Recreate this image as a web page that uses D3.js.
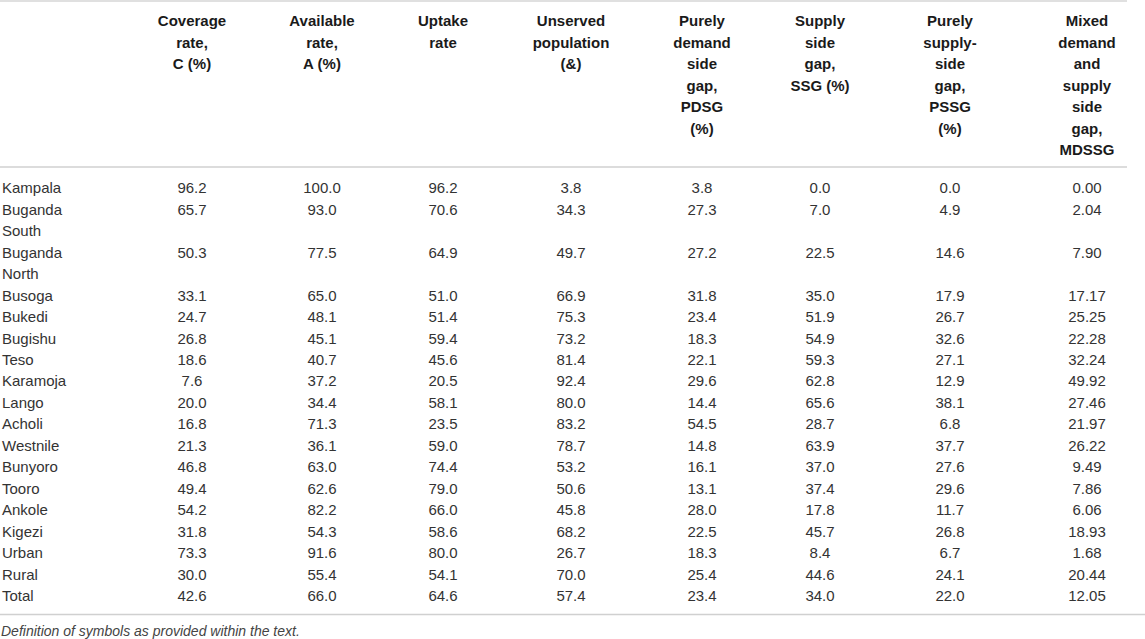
<!DOCTYPE html>
<html><head><meta charset="utf-8">
<script src="https://cdn.jsdelivr.net/npm/d3@7"></script>
<style>html,body{margin:0;padding:0;background:#fff;} svg{display:block;}</style>
</head><body><svg id="c" width="1145" height="639"></svg>
<script>
// ---------- data ----------
const rowLabels = ["Kampala","Buganda South","Buganda North","Busoga","Bukedi","Bugishu","Teso","Karamoja","Lango","Acholi","Westnile","Bunyoro","Tooro","Ankole","Kigezi","Urban","Rural","Total"];
const coverage  = [96.2,65.7,50.3,33.1,24.7,26.8,18.6,7.6,20.0,16.8,21.3,46.8,49.4,54.2,31.8,73.3,30.0,42.6];
const available = [100.0,93.0,77.5,65.0,48.1,45.1,40.7,37.2,34.4,71.3,36.1,63.0,62.6,82.2,54.3,91.6,55.4,66.0];
const uptake    = [96.2,70.6,64.9,51.0,51.4,59.4,45.6,20.5,58.1,23.5,59.0,74.4,79.0,66.0,58.6,80.0,54.1,64.6];
const unserved  = [3.8,34.3,49.7,66.9,75.3,73.2,81.4,92.4,80.0,83.2,78.7,53.2,50.6,45.8,68.2,26.7,70.0,57.4];
const pdsg      = [3.8,27.3,27.2,31.8,23.4,18.3,22.1,29.6,14.4,54.5,14.8,16.1,13.1,28.0,22.5,18.3,25.4,23.4];
const ssg       = [0.0,7.0,22.5,35.0,51.9,54.9,59.3,62.8,65.6,28.7,63.9,37.0,37.4,17.8,45.7,8.4,44.6,34.0];
const pssg      = [0.0,4.9,14.6,17.9,26.7,32.6,27.1,12.9,38.1,6.8,37.7,27.6,29.6,11.7,26.8,6.7,24.1,22.0];
const mdssg     = [0.00,2.04,7.90,17.17,25.25,22.28,32.24,49.92,27.46,21.97,26.22,9.49,7.86,6.06,18.93,1.68,20.44,12.05];
const headerLines = [
  ["Coverage","rate,","C (%)"],
  ["Available","rate,","A (%)"],
  ["Uptake","rate"],
  ["Unserved","population","(&)"],
  ["Purely","demand","side","gap,","PDSG","(%)"],
  ["Supply","side","gap,","SSG (%)"],
  ["Purely","supply-","side","gap,","PSSG","(%)"],
  ["Mixed","demand","and","supply","side","gap,","MDSSG"]
];
const decimals = [1,1,1,1,1,1,1,2];
const footnote = "Definition of symbols as provided within the text.";

// ---------- layout ----------
const W = 1145, H = 639;
const series = [coverage, available, uptake, unserved, pdsg, ssg, pssg, mdssg];
const colKeys = d3.range(series.length);
const colCenters = [192, 322, 443, 571, 702, 820, 950, 1087]; // layout of the table columns
const svg = d3.select("#c");
const FONT = "'Liberation Sans', Arial, Helvetica, sans-serif";

const x = d3.scaleOrdinal().domain(colKeys).range(colCenters);
const lineH = 21.45;
const headY = d3.scaleLinear().domain([0,1]).range([21, 21 + 21.5]);

// rules
const rules = [{y:1, c:"#d6d6d6", w:1.5, x2:1127},{y:167, c:"#dcdcdc", w:2, x2:1127},{y:614.5, c:"#d0d0d0", w:1.5, x2:W}];
svg.selectAll("line.rule").data(rules).join("line").attr("class","rule")
  .attr("x1",0).attr("x2",d=>d.x2).attr("y1",d=>d.y).attr("y2",d=>d.y)
  .attr("stroke",d=>d.c).attr("stroke-width",d=>d.w);

// header
const hg = svg.append("g").attr("font-family",FONT).attr("font-weight","bold")
  .attr("font-size","15px").attr("fill","#1a1a1a").attr("text-anchor","middle");
hg.selectAll("g").data(headerLines).join("g")
  .attr("transform",(d,i)=>`translate(${x(i)},0)`)
  .selectAll("text").data(d=>d).join("text")
  .attr("y",(d,j)=>headY(j)).attr("dy","0.36em").text(d=>d);

// wrap row labels
const body = svg.append("g").attr("font-family",FONT).attr("font-size","15px").attr("fill","#333");
const measure = body.append("text").attr("visibility","hidden");
function wrap(label, maxW){
  const words = label.split(" "); const lines=[]; let cur="";
  words.forEach(w=>{
    const t = cur ? cur+" "+w : w;
    measure.text(t);
    if (cur && measure.node().getComputedTextLength() > maxW){ lines.push(cur); cur=w; } else cur=t;
  });
  if (cur) lines.push(cur);
  return lines;
}
const rows = []; let lineIdx = 0;
rowLabels.forEach((lab,i)=>{
  const lines = wrap(lab, 85);
  rows.push({i, lines, start: lineIdx});
  lineIdx += lines.length;
});
measure.remove();
const yLine = d3.scaleLinear().domain([0,1]).range([188, 188 + lineH]);

const rg = body.selectAll("g.row").data(rows).join("g").attr("class","row");
rg.selectAll("text.lab").data(r=>r.lines.map((l,j)=>({l, y:yLine(r.start+j)}))).join("text")
  .attr("class","lab").attr("x",2).attr("y",d=>d.y).attr("dy","0.36em").text(d=>d.l);
rg.selectAll("text.val").data(r=>colKeys.map(k=>({k, v:series[k][r.i], y:yLine(r.start)}))).join("text")
  .attr("class","val").attr("text-anchor","middle")
  .attr("x",d=>x(d.k)).attr("y",d=>d.y).attr("dy","0.36em")
  .text(d=>d3.format("."+decimals[d.k]+"f")(d.v));

// footnote
svg.append("text").attr("x",1).attr("y",631).attr("dy","0.36em")
  .attr("font-family",FONT).attr("font-style","italic").attr("font-size","14px").attr("fill","#444")
  .text(footnote);
</script></body></html>
